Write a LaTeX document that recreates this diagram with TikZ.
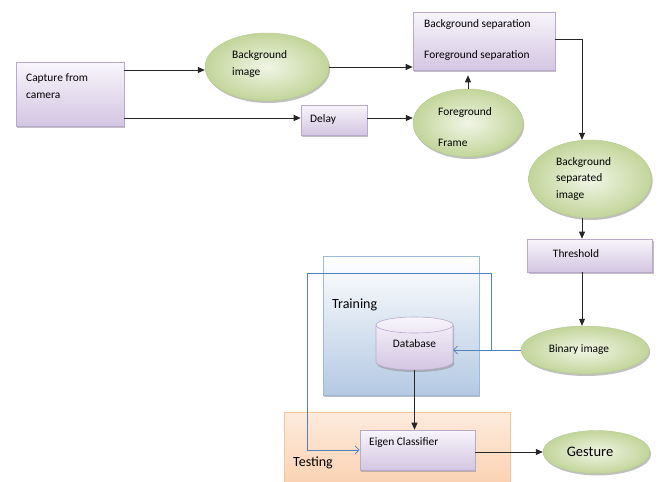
\documentclass[tikz,border=0pt]{standalone}
\usepackage{fontspec}
\setmainfont{Carlito}
\usetikzlibrary{arrows.meta,shapes.geometric,shadows,calc}
\definecolor{purpT}{HTML}{F8F5FB}
\definecolor{purpB}{HTML}{D3C6E2}
\definecolor{purpD}{HTML}{B9AACD}
\definecolor{grnI}{HTML}{F1F5E6}
\definecolor{grnO}{HTML}{C2D59A}
\definecolor{grnD}{HTML}{B5C98C}
\definecolor{bluL}{HTML}{4F81BD}
\definecolor{trT}{HTML}{FFFFFF}
\definecolor{trB}{HTML}{B4C9E3}
\definecolor{trD}{HTML}{9DB9DC}
\definecolor{teT}{HTML}{FDEBDD}
\definecolor{teB}{HTML}{FBD2B2}
\definecolor{teD}{HTML}{F8C49A}
\tikzset{
  shad/.style={drop shadow={shadow xshift=1.2pt, shadow yshift=-2pt, fill=black!45, opacity=0.55}},
  pbox/.style={rectangle, draw=purpD, line width=0.6pt, top color=purpT, bottom color=purpB, shad, inner sep=0pt},
  gell/.style={ellipse, draw=grnD, line width=0.4pt, inner color=grnI, outer color=grnO, shad, inner sep=0pt},
  txt/.style={font=\fontsize{11.4}{17}\selectfont, inner sep=0pt, align=left},
  bigtxt/.style={font=\fontsize{14}{17}\selectfont, inner sep=0pt},
  arr/.style={-{Triangle[length=7pt,width=6pt]}, line width=0.8pt, black!85},
  barr/.style={-{Straight Barb[length=4pt,width=8pt]}, draw=bluL, line width=0.7pt},
}
\begin{document}
\begin{tikzpicture}[x=1pt,y=-1pt]
\useasboundingbox (0,0) rectangle (659,482);
% background group boxes
\node[rectangle, draw=trD, line width=0.6pt, top color=trT, bottom color=trB, shad, minimum width=156pt, minimum height=139pt, inner sep=0pt] (train) at (401,325.5) {};
\node[rectangle, draw=teD, line width=0.6pt, top color=teT, bottom color=teB, minimum width=226pt, minimum height=72pt, inner sep=0pt] (test) at (397,448) {};
\node[bigtxt, anchor=west] (trainlbl) at (332,305) {Training};
\node[bigtxt, anchor=west] (testlbl) at (293,463) {Testing};
% process nodes
\node[pbox, minimum width=108pt, minimum height=64pt] (cap) at (70,94) {};
\node[txt, anchor=west] (captxt) at (26,86) {Capture from\\camera};
\node[gell, minimum width=124pt, minimum height=68pt] (bgimg) at (267,67) {};
\node[txt, anchor=west] (bgimgtxt) at (232,64) {Background\\image};
\node[pbox, minimum width=66pt, minimum height=30pt] (delay) at (334,120) {};
\node[txt, anchor=west] (delaytxt) at (310,119) {Delay};
\node[gell, minimum width=110pt, minimum height=68pt] (fg) at (468,123) {};
\node[txt, anchor=west] (fgtxt1) at (438,113) {Foreground};
\node[txt, anchor=west] (fgtxt2) at (438,143) {Frame};
\node[pbox, minimum width=142pt, minimum height=58pt] (bgsep) at (484,41) {};
\node[txt, anchor=west] (bgseptxt1) at (424,25) {Background separation};
\node[txt, anchor=west] (bgseptxt2) at (424,56) {Foreground separation};
\node[gell, minimum width=123pt, minimum height=78pt] (bsi) at (590,179) {};
\node[txt, anchor=west, font=\fontsize{11.4}{16.5}\selectfont] (bsitxt) at (556,179) {Background\\separated\\image};
\node[pbox, minimum width=125pt, minimum height=33pt] (thr) at (590,255.5) {};
\node[txt] (thrtxt) at (576,254) {Threshold};
\node[gell, minimum width=128pt, minimum height=48pt] (bin) at (585,350) {};
\node[txt] (bintxt) at (579,350) {Binary image};
% database cylinder
\shade[top color=purpT, bottom color=purpB, draw=purpD, line width=0.6pt, shad]
  (376,325) -- (376,362) arc[start angle=180, end angle=0, x radius=38.5, y radius=8]
  -- (453,325) arc[start angle=0, end angle=-180, x radius=38.5, y radius=8] -- cycle;
\draw[purpD, line width=0.6pt] (376,325) arc[start angle=180, end angle=0, x radius=38.5, y radius=8];
\node[txt, minimum width=77pt, minimum height=53pt] (db) at (414.5,344) {Database};
\coordinate (dbs) at (414.5,370);
\node[pbox, minimum width=115pt, minimum height=40pt] (eig) at (417.5,450) {};
\node[txt, anchor=west] (eigtxt) at (369,443) {Eigen Classifier};
\node[gell, minimum width=107pt, minimum height=43pt] (ges) at (596.5,452) {};
\node[bigtxt, font=\fontsize{14.5}{17}\selectfont] (gestxt) at (590,452) {Gesture};
% connectors
\draw[arr] (cap.east |- 0,70) -- (bgimg.west |- 0,70);
\draw[arr] (cap.east |- 0,118) -- (delay.west |- 0,118);
\draw[arr] (delay.east |- 0,118) -- (fg.west |- 0,118);
\draw[arr] (bgimg.east) -- (bgimg.east -| bgsep.west);
\draw[arr] (fg.north) -- ($(fg.north |- bgsep.south)+(0,5)$);
\coordinate (bsin) at ($(bsi.north)+(-8,0)$);
\draw[arr] ($(bgsep.east)+(0,-2)$) -| (bsin);
\coordinate (bsis) at ($(bsi.south)+(-8,0)$);
\draw[arr] (bsis) -- (bsis |- thr.north);
\coordinate (thrs) at ($(thr.south)+(-8,0)$);
\draw[arr] (thrs) -- (thrs |- bin.north);
\draw[arr] (dbs) -- (dbs |- eig.north);
\draw[arr] (eig.east |- ges.west) -- (ges.west);
\coordinate (j) at (491,350);
\coordinate (tl) at (307,273);
\draw[barr] (bin.west) -- (bin.west -| db.east);
\draw[barr] (j) |- (tl) -- (tl |- eig.west) -- (eig.west);
\end{tikzpicture}
\end{document}
